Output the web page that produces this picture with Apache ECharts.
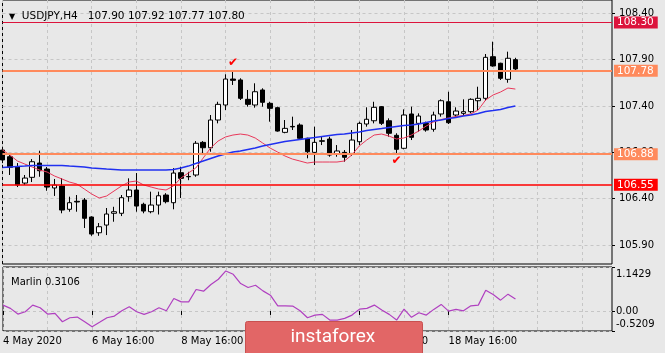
<!DOCTYPE html>
<html>
<head>
<meta charset="utf-8">
<script src="https://cdn.jsdelivr.net/npm/echarts@6/dist/echarts.min.js"></script>
<style>
html,body{margin:0;padding:0;background:#e8e8e8;}
#main{width:665px;height:353px;}
</style>
</head>
<body>
<div id="main"></div>
<script>
// USDJPY H4 bars, [open, close, low, high]
var candles = [
  [106.925,106.818,106.785,106.961],[106.853,106.739,106.656,106.893],[106.742,106.548,106.526,106.785],
  [106.569,106.623,106.548,106.656],[106.631,106.799,106.580,106.828],[106.785,106.702,106.637,106.918],
  [106.720,106.526,106.486,106.742],[106.516,106.548,106.430,106.613],[106.537,106.278,106.243,106.623],
  [106.286,106.357,106.260,106.422],[106.372,106.365,106.260,106.440],[106.386,106.189,106.084,106.408],
  [106.203,106.019,106.000,106.210],[106.033,106.098,106.000,106.138],[106.116,106.235,106.008,106.300],
  [106.243,106.260,106.152,106.313],[106.243,106.411,106.213,106.440],[106.422,106.494,106.368,106.620],
  [106.494,106.321,106.260,106.677],[106.340,106.267,106.243,106.357],[106.260,106.332,106.243,106.476],
  [106.332,106.432,106.230,106.476],[106.440,106.368,106.350,106.460],[106.357,106.677,106.286,106.730],
  [106.681,106.620,106.408,106.745],[106.640,106.637,106.600,106.690],[106.656,106.998,106.637,107.022],
  [107.008,106.950,106.871,107.022],[106.950,107.249,106.907,107.303],[107.249,107.418,107.213,107.446],
  [107.411,107.691,107.357,107.742],[107.691,107.677,107.627,107.778],[107.681,107.483,107.465,107.699],
  [107.472,107.418,107.393,107.573],[107.411,107.554,107.382,107.645],[107.573,107.440,107.393,107.591],
  [107.429,107.375,107.231,107.446],[107.382,107.130,107.123,107.393],[107.116,107.159,107.106,107.249],
  [107.180,107.175,107.141,107.285],[107.195,107.052,107.044,107.213],[107.052,106.907,106.836,107.058],
  [106.900,107.008,106.764,107.177],[107.025,107.020,106.979,107.069],[107.044,106.871,106.853,107.069],
  [106.883,106.915,106.853,106.979],[106.900,106.847,106.799,106.925],[106.889,107.033,106.861,107.141],
  [107.015,107.213,106.979,107.231],[107.206,107.257,107.177,107.386],[107.241,107.386,107.213,107.446],
  [107.393,107.213,107.195,107.400],[107.241,107.106,107.069,107.267],[107.084,106.933,106.871,107.106],
  [106.944,107.303,106.933,107.364],[107.314,107.062,107.033,107.393],[107.213,107.292,107.123,107.321],
  [107.213,107.141,107.123,107.231],[107.149,107.303,107.123,107.339],[107.314,107.457,107.285,107.472],
  [107.446,107.220,107.206,107.554],[107.303,107.346,107.278,107.386],[107.321,107.339,107.292,107.472],
  [107.339,107.472,107.321,107.483],[107.457,107.483,107.357,107.608],[107.483,107.925,107.457,107.961],
  [107.932,107.832,107.824,108.094],[107.861,107.699,107.681,107.867],[107.688,107.915,107.651,107.986],
  [107.90,107.80,107.77,107.92]
];
// red moving average
var maFast = [
  106.925,106.872,106.807,106.774,106.742,106.710,106.688,106.645,106.613,106.580,
  106.559,106.505,106.451,106.408,106.429,106.483,106.537,106.580,106.591,106.548,
  106.526,106.505,106.494,106.537,106.623,106.677,106.731,106.839,106.947,107.022,
  107.066,107.087,107.098,107.087,107.055,107.001,106.947,106.904,106.861,106.828,
  106.807,106.785,106.796,106.796,106.796,106.796,106.807,106.872,106.969,107.033,
  107.087,107.098,107.076,107.044,107.055,107.087,107.130,107.184,107.227,107.254,
  107.271,107.287,107.298,107.314,107.357,107.465,107.519,107.551,107.594,107.583
];
// blue moving average
var maSlow = [
  106.737,106.742,106.747,106.752,106.758,106.758,106.758,106.758,106.758,106.752,
  106.747,106.742,106.731,106.726,106.720,106.715,106.710,106.710,106.710,106.710,
  106.710,106.710,106.710,106.715,106.731,106.752,106.780,106.807,106.834,106.861,
  106.882,106.904,106.915,106.931,106.947,106.969,106.985,107.001,107.017,107.028,
  107.039,107.050,107.060,107.071,107.082,107.093,107.098,107.109,107.120,107.136,
  107.147,107.157,107.168,107.179,107.190,107.195,107.206,107.222,107.238,107.249,
  107.265,107.276,107.292,107.303,107.319,107.341,107.351,107.362,107.384,107.400
];
// Marlin oscillator
var marlin = [
  0.152,0.067,-0.081,-0.021,0.152,0.082,-0.081,-0.063,-0.280,-0.177,
  -0.159,-0.280,-0.410,-0.296,-0.177,-0.133,0.004,0.108,-0.021,-0.089,
  -0.021,0.082,0.004,0.325,0.237,0.237,0.558,0.514,0.688,0.825,
  1.040,0.954,0.713,0.610,0.669,0.522,0.411,0.134,0.134,0.126,
  0.004,-0.177,-0.107,-0.089,-0.236,-0.236,-0.192,-0.107,0.048,0.067,
  0.152,0.023,-0.089,-0.236,0.048,-0.166,-0.047,-0.107,0.041,0.170,
  -0.003,0.041,0.004,0.134,0.152,0.540,0.429,0.281,0.437,0.3106
];
var xLabels = {0:'4 May 2020', 12:'6 May 16:00', 24:'8 May 16:00', 36:'12 May 16:00', 48:'14 May 16:00', 60:'18 May 16:00'};
var priceTicks = [105.90, 106.40, 106.90, 107.40, 107.90, 108.40];
var marlinTicks = [-0.5209, 0, 1.1429];
var levelValues = [108.30, 107.78, 106.88, 106.55];
var checkMarks = [[31, 107.87], [53, 106.81]];
var emptyBars = 13;

// category names: H4 bars from 4 May 16:00, weekend skipped
var months = ['Jan','Feb','Mar','Apr','May','Jun','Jul','Aug','Sep','Oct','Nov','Dec'];
var categories = [];
var t = Date.UTC(2020, 4, 4, 16);
for (var i = 0; i < candles.length + emptyBars; i++) {
  var d = new Date(t);
  categories.push(d.getUTCDate() + ' ' + months[d.getUTCMonth()] + ' ' + ('0' + d.getUTCHours()).slice(-2) + ':00');
  t += 4 * 3600 * 1000;
  while (new Date(t).getUTCDay() === 6 || new Date(t).getUTCDay() === 0) t += 4 * 3600 * 1000;
}

var FONT = 'DejaVu Sans';
var levelColors = ['#dc143c', '#ff8a5c', '#ff8a5c', '#ff0000'];
var levelWidths = [1, 2, 2, 1.5];
var last = candles[candles.length - 1];
var gridLine = {show: true, lineStyle: {color: '#c6c6c6', type: [3, 3], width: 1}};

function every(n) { return function (idx) { return idx % n === 0; }; }
function hasLabel(idx) { return xLabels.hasOwnProperty(idx); }

var markLines = [{
  yAxis: last[1],
  lineStyle: {opacity: 0},
  label: {formatter: last[1].toFixed(2), backgroundColor: '#000', color: '#fff'}
}];
levelValues.forEach(function (v, k) {
  markLines.push({
    yAxis: v,
    lineStyle: {color: levelColors[k], width: levelWidths[k], type: 'solid'},
    label: {formatter: v.toFixed(2), backgroundColor: levelColors[k], color: '#fff'}
  });
});

var myChart = echarts.init(document.getElementById('main'));
var option = {
  backgroundColor: '#e8e8e8',
  animation: false,
  title: [{
    text: '{t|\u25BC}  USDJPY,H4   ' + [last[0], last[3], last[2], last[1]].map(function (v) { return v.toFixed(2); }).join(' '),
    left: 4, top: 6,
    textStyle: {fontFamily: FONT, fontSize: 10.5, fontWeight: 'normal', color: '#000',
      rich: {t: {fontSize: 8, fontFamily: FONT, color: '#000'}}}
  }, {
    text: 'Marlin ' + marlin[marlin.length - 1].toFixed(4),
    left: 6, top: 272,
    textStyle: {fontFamily: FONT, fontSize: 10, fontWeight: 'normal', color: '#000'}
  }],
  grid: [
    {left: 2.5, top: 0, width: 609.5, height: 264, show: true, borderColor: '#000', borderWidth: 1, backgroundColor: 'transparent'},
    {left: 2.5, top: 267, width: 609.5, height: 64, show: true, borderColor: '#000', borderWidth: 1, backgroundColor: 'transparent'}
  ],
  xAxis: [{
    type: 'category', gridIndex: 0, data: categories, boundaryGap: false,
    axisLine: {show: false}, axisTick: {show: false}, axisLabel: {show: false},
    splitLine: {show: true, interval: every(6), lineStyle: gridLine.lineStyle}
  }, {
    type: 'category', gridIndex: 1, data: categories, boundaryGap: false,
    axisLine: {show: false},
    axisTick: {show: true, interval: hasLabel, length: 4, lineStyle: {color: '#000'}},
    axisLabel: {show: true, interval: hasLabel, align: 'left', margin: 5,
      fontFamily: FONT, fontSize: 10, color: '#000',
      formatter: function (val, idx) { return xLabels[idx] || ''; }},
    splitLine: {show: true, interval: every(6), lineStyle: gridLine.lineStyle}
  }],
  yAxis: [{
    type: 'value', gridIndex: 0, position: 'right', min: 105.696, max: 108.5435,
    axisLine: {show: false},
    axisTick: {show: true, customValues: priceTicks, length: 3, lineStyle: {color: '#000'}},
    axisLabel: {show: true, customValues: priceTicks, margin: 7, fontFamily: FONT, fontSize: 10, color: '#000',
      formatter: function (v) { return v.toFixed(2); }},
    splitLine: gridLine
  }, {
    type: 'value', gridIndex: 1, position: 'right', min: marlinTicks[0], max: marlinTicks[2],
    axisLine: {show: false},
    axisTick: {show: true, customValues: marlinTicks, length: 3, lineStyle: {color: '#000'}},
    axisLabel: {show: true, customValues: marlinTicks, margin: 4, fontFamily: FONT, fontSize: 10, color: '#000',
      formatter: function (v) {
        if (Math.abs(v - marlinTicks[2]) < 1e-6) return '{top|' + v.toFixed(4) + '}';
        if (Math.abs(v - marlinTicks[0]) < 1e-6) return '{bot|' + v.toFixed(4) + '}';
        return v.toFixed(2);
      },
      rich: {
        top: {fontFamily: FONT, fontSize: 10, color: '#000', padding: [15, 0, 0, 0]},
        bot: {fontFamily: FONT, fontSize: 10, color: '#000', padding: [0, 0, 14, 0]}
      }},
    splitLine: gridLine
  }],
  series: [{
    type: 'candlestick', xAxisIndex: 0, yAxisIndex: 0, data: candles, barWidth: 5,
    itemStyle: {color: '#ffffff', color0: '#000000', borderColor: '#000000', borderColor0: '#000000', borderWidth: 1},
    markLine: {
      silent: true, symbol: ['none', 'none'], animation: false,
      label: {position: 'end', distance: 2, fontFamily: FONT, fontSize: 10.5, padding: [1, 4, 0, 3], lineHeight: 11},
      data: markLines
    },
    markPoint: {
      silent: true, symbol: 'rect', symbolSize: 1, itemStyle: {color: 'transparent'},
      label: {show: true, position: 'inside', formatter: '\u2714', color: '#ff0000', fontSize: 12, fontFamily: FONT},
      data: checkMarks.map(function (c) { return {coord: c}; })
    }
  }, {
    type: 'line', xAxisIndex: 0, yAxisIndex: 0, data: maFast, symbol: 'none',
    lineStyle: {color: '#e8385a', width: 1}
  }, {
    type: 'line', xAxisIndex: 0, yAxisIndex: 0, data: maSlow, symbol: 'none',
    lineStyle: {color: '#2030f0', width: 1.5}
  }, {
    type: 'line', xAxisIndex: 1, yAxisIndex: 1, data: marlin, symbol: 'none',
    lineStyle: {color: '#b040c0', width: 1.2}
  }],
  graphic: [{
    type: 'group', left: 245, top: 321, z: 100, silent: true,
    children: [
      {type: 'rect', z: 100, shape: {x: 0, y: 0, width: 177, height: 40, r: 2},
        style: {fill: '#e26666', stroke: '#c85050', lineWidth: 1}},
      {type: 'text', z: 101, x: 45, y: 6, style: {text: 'instaforex', fill: '#fff', font: '19px Roboto'}}
    ]
  }]
};
myChart.setOption(option);
</script>
</body>
</html>
